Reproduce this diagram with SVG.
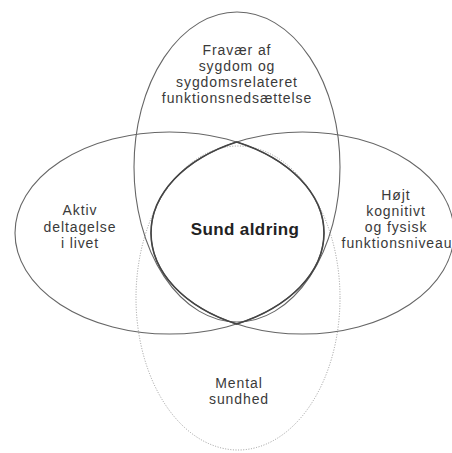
<svg xmlns="http://www.w3.org/2000/svg" width="452" height="453" viewBox="0 0 452 453">
<style>
.e{fill:none;stroke:#666;stroke-width:1.1}
.d{fill:none;stroke:#9a9a9a;stroke-width:1;stroke-dasharray:1 1.6}
.lens{fill:none;stroke:#444;stroke-width:1.6}
.t{font-family:"Liberation Sans",Arial,sans-serif;font-size:14px;letter-spacing:0.9px;fill:#3a3a3a;text-anchor:middle}
.b{font-family:"Liberation Sans",Arial,sans-serif;font-size:17px;font-weight:bold;letter-spacing:0.4px;fill:#222;text-anchor:middle}
</style>
<rect width="452" height="453" fill="#fff"/>
<g id="mental">
<ellipse class="d" cx="238" cy="298" rx="102" ry="152"/>
<text class="t" x="239" y="388">Mental</text>
<text class="t" x="239" y="404">sundhed</text>
</g>
<g id="fravaer">
<ellipse class="e" cx="237" cy="167" rx="103" ry="155"/>
<text class="t" x="237" y="55">Fravær af</text>
<text class="t" x="237" y="71">sygdom og</text>
<text class="t" x="237" y="87">sygdomsrelateret</text>
<text class="t" x="237" y="103">funktionsnedsættelse</text>
</g>
<g id="aktiv">
<ellipse class="e" cx="169.5" cy="233" rx="154.5" ry="101"/>
<text class="t" x="80" y="215">Aktiv</text>
<text class="t" x="80" y="232">deltagelse</text>
<text class="t" x="80" y="248">i livet</text>
</g>
<g id="hoejt">
<ellipse class="e" cx="302.5" cy="233" rx="151.5" ry="101"/>
<text class="t" x="396" y="200">Højt</text>
<text class="t" x="396" y="216">kognitivt</text>
<text class="t" x="396" y="232">og fysisk</text>
<text class="t" x="397" y="248">funktionsniveau</text>
</g>
<g id="sund">
<path class="lens" d="M236.65 142.04A151.5 101 0 0 0 236.65 323.96A154.5 101 0 0 0 236.65 142.04Z"/>
<text class="b" x="245" y="235">Sund aldring</text>
</g>
<g id="connectors"></g>
</svg>
